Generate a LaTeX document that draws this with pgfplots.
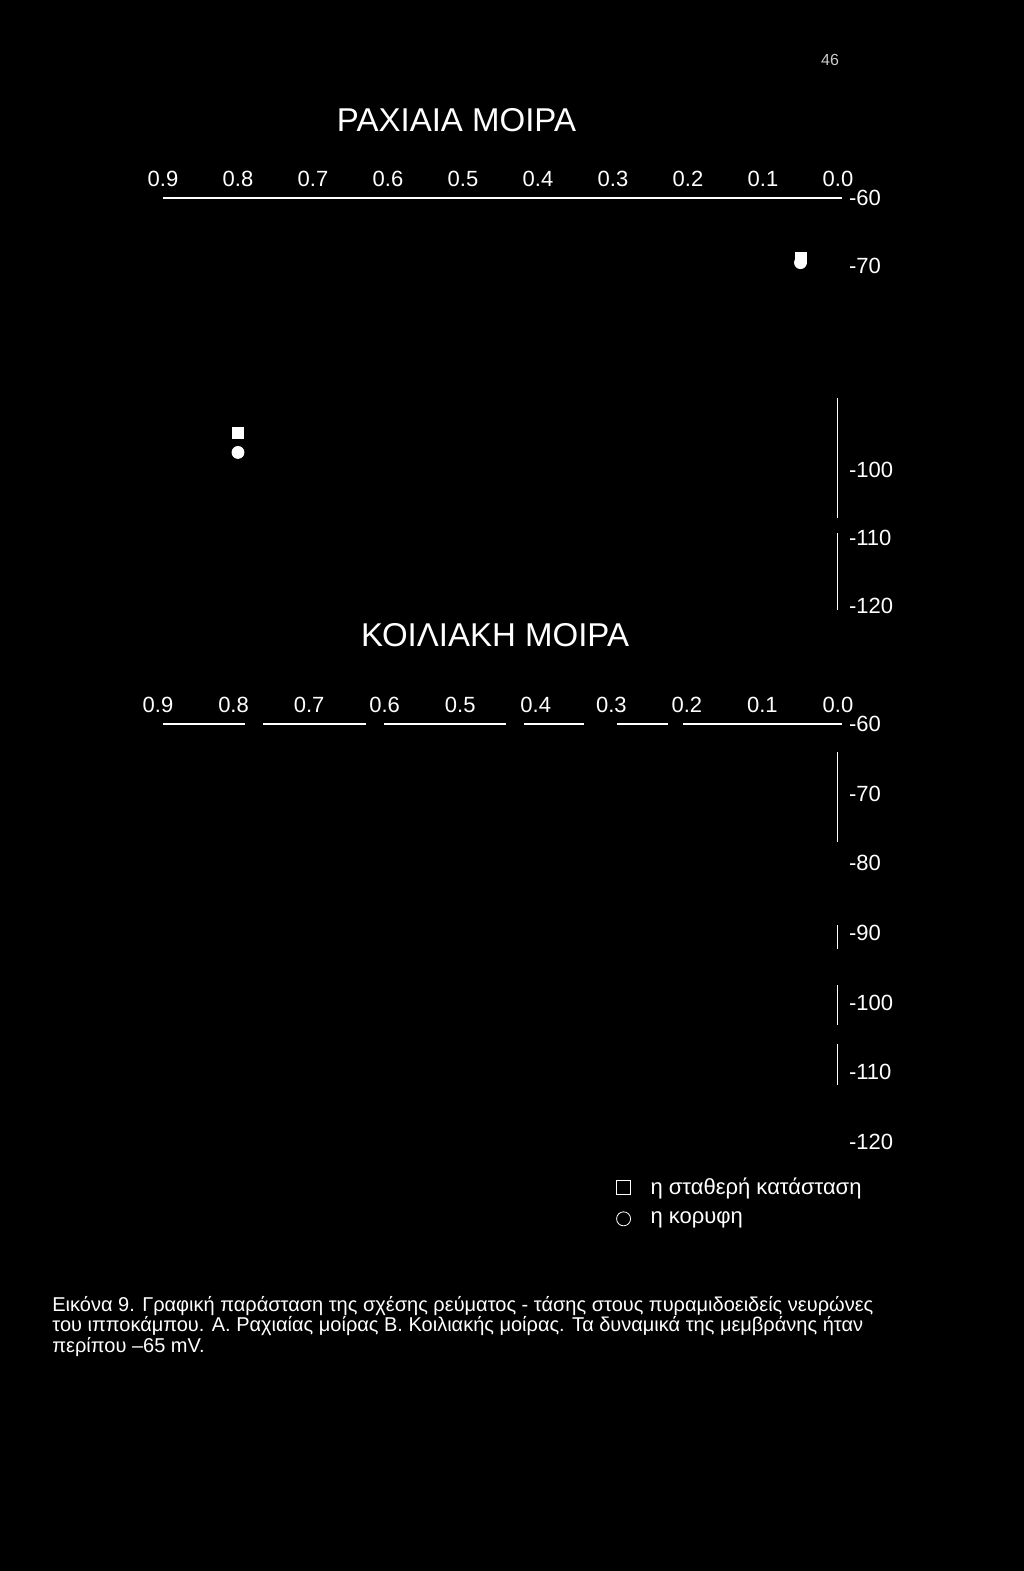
\documentclass[border=0pt]{standalone}
\usepackage{fontspec}
\setmainfont{Liberation Sans}
\usepackage{pgfplots}
\pgfplotsset{compat=1.18}
\pgfplotsset{
  panel/.style={
    scale only axis, x dir=reverse,
    xmin=0, xmax=0.9, ymin=-121, ymax=-60,
    axis line style={draw=none}, major tick length=0pt, tick style={draw=none},
    xtick={0,0.1,0.2,0.3,0.4,0.5,0.6,0.7,0.8,0.9},
    xticklabels={0.0,0.1,0.2,0.3,0.4,0.5,0.6,0.7,0.8,0.9},
    xticklabel pos=upper, yticklabel pos=upper,
    ticklabel style={text=white, font=\fontsize{11}{13}\selectfont},
    xticklabel style={yshift=2pt},
    yticklabel style={xshift=2pt},
    clip=false,
  }
}
\begin{document}
\begin{tikzpicture}
\fill[black] (0,0) rectangle (512pt,-785.5pt);
\useasboundingbox (0,0) rectangle (512pt,-785.5pt);

% Panel A
\begin{axis}[panel, at={(81.5pt,-99pt)}, anchor=north west,
  width=337.5pt, height=207.5pt,
  ytick={-60,-70,-100,-110,-120},
  yticklabels={-60,-70,-100,-110,-120}]
\addplot[only marks, mark=square*, white, mark size=2.75pt] coordinates {(0.80,-94.6) (0.05,-68.8)};
\addplot[only marks, mark=*, white, mark size=3pt] coordinates {(0.80,-97.4) (0.05,-69.5)};
\draw[white, line width=0.6pt] (axis cs:0.9,-60) -- (axis cs:-0.005,-60);
\draw[white, line width=0.5pt] (axis cs:0,-89.4) -- (axis cs:0,-107);
\draw[white, line width=0.5pt] (axis cs:0,-109.3) -- (axis cs:0,-120.6);
\end{axis}

% Panel B
\begin{axis}[panel, at={(79pt,-362pt)}, anchor=north west,
  width=340pt, height=212.3pt,
  ytick={-60,-70,-80,-90,-100,-110,-120},
  yticklabels={-60,-70,-80,-90,-100,-110,-120},
  legend style={at={(0.665,-0.049)}, anchor=north west, draw=none, fill=black,
    text=white, font=\fontsize{11}{13}\selectfont, row sep=3pt,
    /tikz/every odd column/.append style={column sep=8pt}},
  legend cell align=left]
\addlegendimage{only marks, mark=square, white, mark size=3.5pt}
\addlegendentry{η σταθερή κατάσταση}
\addlegendimage{only marks, mark=o, white, mark size=3.5pt}
\addlegendentry{η κορυφη}
\draw[white, line width=0.6pt] (axis cs:0.894,-60) -- (axis cs:0.785,-60);
\draw[white, line width=0.6pt] (axis cs:0.761,-60) -- (axis cs:0.625,-60);
\draw[white, line width=0.6pt] (axis cs:0.601,-60) -- (axis cs:0.439,-60);
\draw[white, line width=0.6pt] (axis cs:0.415,-60) -- (axis cs:0.336,-60);
\draw[white, line width=0.6pt] (axis cs:0.293,-60) -- (axis cs:0.225,-60);
\draw[white, line width=0.6pt] (axis cs:0.205,-60) -- (axis cs:-0.005,-60);
\draw[white, line width=0.5pt] (axis cs:0,-64) -- (axis cs:0,-77);
\draw[white, line width=0.5pt] (axis cs:0,-88.9) -- (axis cs:0,-92.3);
\draw[white, line width=0.5pt] (axis cs:0,-97.5) -- (axis cs:0,-103.2);
\draw[white, line width=0.5pt] (axis cs:0,-106) -- (axis cs:0,-111.9);
\end{axis}

% Titles and texts
\node[text=white, font=\fontsize{16.5}{19}\selectfont] at (228.25pt,-60pt) {ΡΑΧΙΑΙΑ ΜΟΙΡΑ};
\node[text=white, font=\fontsize{16.5}{19}\selectfont] at (247.5pt,-317.5pt) {ΚΟΙΛΙΑΚΗ ΜΟΙΡΑ};
\node[text=white!80!black, font=\fontsize{8}{10}\selectfont] at (415pt,-30pt) {46};
\node[anchor=base west, text=white, font=\fontsize{10}{12}\selectfont, inner sep=0pt] at (26pt,-655.5pt)
  {Εικόνα 9. Γραφική παράσταση της σχέσης ρεύματος - τάσης στους πυραμιδοειδείς νευρώνες};
\node[anchor=base west, text=white, font=\fontsize{10}{12}\selectfont, inner sep=0pt] at (26pt,-665.8pt)
  {του ιπποκάμπου. Α. Ραχιαίας μοίρας Β. Κοιλιακής μοίρας. Τα δυναμικά της μεμβράνης ήταν};
\node[anchor=base west, text=white, font=\fontsize{10}{12}\selectfont, inner sep=0pt] at (26pt,-676.1pt)
  {περίπου –65 mV.};
\end{tikzpicture}
\end{document}
